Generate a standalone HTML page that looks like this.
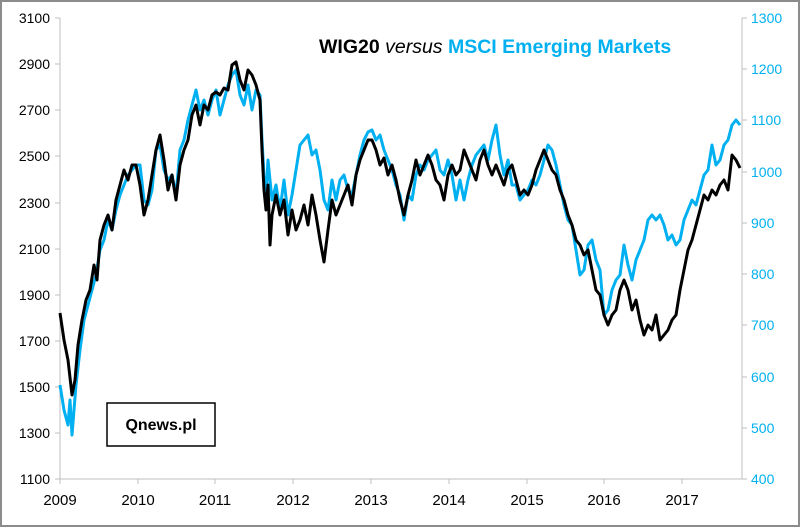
<!DOCTYPE html>
<html><head><style>
html,body{margin:0;padding:0;background:#fff;}
svg{display:block;font-family:"Liberation Sans",sans-serif;}
</style></head><body>
<svg width="800" height="527" viewBox="0 0 800 527">
<rect x="1" y="1" width="798" height="525" fill="#fff" stroke="#8c8c8c" stroke-width="2"/>
<g stroke="#bfbfbf" stroke-width="1" fill="none">
<line x1="60" y1="18" x2="60" y2="479"/>
<line x1="742" y1="18" x2="742" y2="479"/>
<line x1="60" y1="479" x2="742" y2="479"/>
</g>
<g stroke="#bfbfbf" stroke-width="1">
<line x1="55" y1="18" x2="60" y2="18"/><line x1="55" y1="64" x2="60" y2="64"/><line x1="55" y1="110" x2="60" y2="110"/><line x1="55" y1="156" x2="60" y2="156"/><line x1="55" y1="203" x2="60" y2="203"/><line x1="55" y1="249" x2="60" y2="249"/><line x1="55" y1="295" x2="60" y2="295"/><line x1="55" y1="341" x2="60" y2="341"/><line x1="55" y1="387" x2="60" y2="387"/><line x1="55" y1="433" x2="60" y2="433"/><line x1="55" y1="479" x2="60" y2="479"/>
<line x1="742" y1="18" x2="747" y2="18"/><line x1="742" y1="69" x2="747" y2="69"/><line x1="742" y1="120" x2="747" y2="120"/><line x1="742" y1="172" x2="747" y2="172"/><line x1="742" y1="223" x2="747" y2="223"/><line x1="742" y1="274" x2="747" y2="274"/><line x1="742" y1="325" x2="747" y2="325"/><line x1="742" y1="377" x2="747" y2="377"/><line x1="742" y1="428" x2="747" y2="428"/><line x1="742" y1="479" x2="747" y2="479"/>
<line x1="60" y1="479" x2="60" y2="484"/><line x1="138" y1="479" x2="138" y2="484"/><line x1="215" y1="479" x2="215" y2="484"/><line x1="293" y1="479" x2="293" y2="484"/><line x1="371" y1="479" x2="371" y2="484"/><line x1="449" y1="479" x2="449" y2="484"/><line x1="527" y1="479" x2="527" y2="484"/><line x1="604" y1="479" x2="604" y2="484"/><line x1="682" y1="479" x2="682" y2="484"/>
</g>
<g font-size="14" fill="#000" text-anchor="end">
<text x="50" y="23">3100</text><text x="50" y="69">2900</text><text x="50" y="115">2700</text><text x="50" y="161">2500</text><text x="50" y="208">2300</text><text x="50" y="254">2100</text><text x="50" y="300">1900</text><text x="50" y="346">1700</text><text x="50" y="392">1500</text><text x="50" y="438">1300</text><text x="50" y="484">1100</text>
</g>
<g font-size="14" fill="#00b0f0">
<text x="751" y="23">1300</text><text x="751" y="74">1200</text><text x="751" y="125">1100</text><text x="751" y="177">1000</text><text x="751" y="228">900</text><text x="751" y="279">800</text><text x="751" y="330">700</text><text x="751" y="382">600</text><text x="751" y="433">500</text><text x="751" y="484">400</text>
</g>
<g font-size="15" fill="#000" text-anchor="middle">
<text x="60" y="505">2009</text><text x="138" y="505">2010</text><text x="215" y="505">2011</text><text x="293" y="505">2012</text><text x="371" y="505">2013</text><text x="449" y="505">2014</text><text x="527" y="505">2015</text><text x="604" y="505">2016</text><text x="682" y="505">2017</text>
</g>
<polyline fill="none" stroke="#00b0f0" stroke-width="3" stroke-linejoin="round" points="60,385 64,410 68,425 70,400 72,435 76,385 80,350 84,320 88,305 92,290 96,275 100,250 104,240 108,220 112,230 116,210 120,195 124,185 128,175 132,170 136,165 140,165 144,200 148,205 152,190 156,150 160,145 164,170 168,180 172,175 176,195 180,150 184,140 188,120 192,105 196,90 200,110 204,100 208,115 212,100 216,90 220,115 224,100 228,85 232,75 236,70 240,95 244,105 248,85 252,110 256,90 260,95 262,140 264,175 266,200 268,160 272,200 276,185 280,210 284,180 288,215 292,195 296,170 300,145 304,140 308,135 312,155 316,150 320,170 324,200 328,210 332,180 336,200 340,180 344,175 348,190 352,195 356,175 360,155 364,140 368,132 372,130 376,140 380,135 384,150 388,160 392,170 396,185 400,195 404,220 408,195 412,200 416,175 420,165 424,170 428,160 432,155 436,150 440,170 444,175 448,160 452,175 456,200 460,180 464,200 468,180 472,165 476,155 480,150 484,145 488,160 492,140 496,125 500,155 504,175 508,160 512,185 516,185 520,200 524,195 528,190 532,180 536,185 540,175 544,160 548,145 552,150 556,165 560,185 564,205 568,220 572,225 576,250 580,275 584,270 588,245 592,240 596,260 600,270 604,315 608,310 612,290 616,280 620,275 624,245 628,265 632,280 636,260 640,250 644,240 648,220 652,215 656,220 660,215 664,225 668,240 672,235 676,245 680,240 684,220 688,210 692,200 696,205 700,190 704,175 708,170 712,145 716,165 720,160 724,145 728,140 732,125 736,120 740,125"/>
<polyline fill="none" stroke="#000" stroke-width="3" stroke-linejoin="round" points="60,313 64,340 68,360 72,395 75,380 78,345 82,320 86,300 90,290 94,265 97,280 100,240 104,225 108,215 112,230 116,200 120,185 124,170 128,180 132,165 136,165 140,185 144,215 148,200 152,175 156,150 160,135 164,160 168,190 172,175 176,200 180,165 184,150 188,140 192,115 196,105 200,125 204,105 208,110 212,95 216,92 220,95 224,88 228,90 232,65 236,62 240,80 244,90 248,70 252,75 256,85 260,100 262,150 264,190 266,210 268,185 270,245 272,215 276,195 280,215 284,200 288,235 292,210 296,230 300,220 304,205 308,225 312,195 316,215 320,240 324,262 328,230 332,200 336,215 340,205 344,195 348,185 352,205 356,175 360,160 364,150 368,140 372,140 376,150 380,165 384,158 388,175 392,165 396,180 400,200 404,215 408,195 412,180 416,160 420,175 424,165 428,155 432,165 436,180 440,185 444,200 448,175 452,165 456,175 460,170 464,150 468,160 472,170 476,180 480,160 484,150 488,165 492,175 496,165 500,175 504,185 508,170 512,165 516,180 520,195 524,190 528,195 532,185 536,170 540,160 544,150 548,160 552,170 556,175 560,190 564,200 568,215 572,225 576,240 580,245 584,255 588,250 592,270 596,290 600,295 604,315 608,325 612,315 616,310 620,290 624,280 628,290 632,310 636,300 640,320 644,335 648,325 652,330 656,315 660,340 664,335 668,330 672,320 676,315 680,290 684,270 688,250 692,240 696,225 700,210 704,195 708,200 712,190 716,195 720,185 724,180 728,190 732,155 736,160 740,168"/>
<text x="319" y="53" font-size="19.5" font-weight="bold" fill="#000">WIG20 <tspan font-weight="normal" font-style="italic">versus</tspan> <tspan fill="#00b0f0">MSCI Emerging Markets</tspan></text>
<rect x="107" y="403" width="108" height="43" fill="#fff" stroke="#000" stroke-width="1.5"/>
<text x="161" y="430" font-size="16" font-weight="bold" text-anchor="middle">Qnews.pl</text>
</svg>
</body></html>
